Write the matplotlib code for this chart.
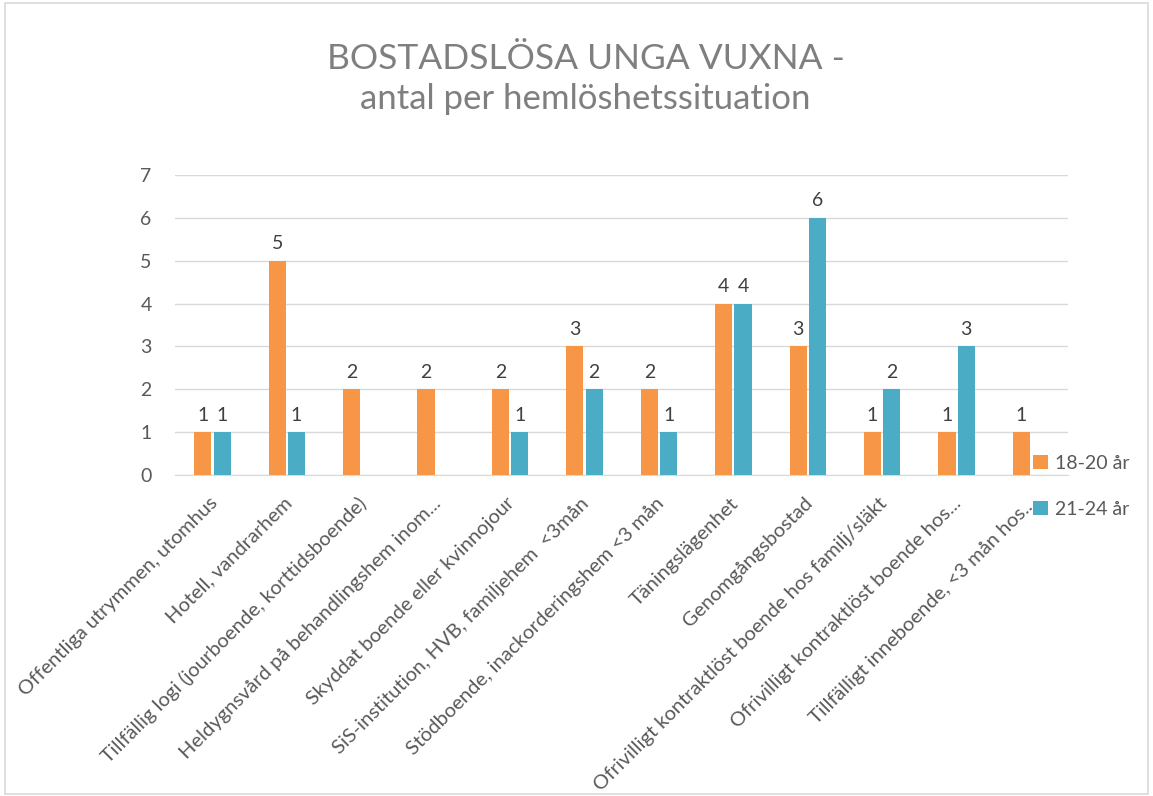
import numpy as np
import matplotlib
matplotlib.use("Agg")
import matplotlib.pyplot as plt
from matplotlib.patches import Rectangle
from matplotlib.transforms import ScaledTranslation

plt.rcParams["font.family"] = ["Lato", "DejaVu Sans"]

CATEGORIES = [
    "Offentliga utrymmen, utomhus",
    "Hotell, vandrarhem",
    "Tillfällig logi (jourboende, korttidsboende)",
    "Heldygnsvård på behandlingshem inom...",
    "Skyddat boende eller kvinnojour",
    "SiS-institution, HVB, familjehem  <3mån",
    "Stödboende, inackorderingshem <3 mån",
    "Täningslägenhet",
    "Genomgångsbostad",
    "Ofrivilligt kontraktlöst boende hos familj/släkt",
    "Ofrivilligt kontraktlöst boende hos...",
    "Tillfälligt inneboende, <3 mån hos...",
]
AGE_18_20 = [1, 5, 2, 2, 2, 3, 2, 4, 3, 1, 1, 1]
AGE_21_24 = [1, 1, None, None, 1, 2, 1, 4, 6, 2, 3, None]
SERIES = ["18-20 år", "21-24 år"]
COLORS = ["#F79646", "#4BACC6"]
TXT = "#595959"

fig = plt.figure(figsize=(11.53, 7.96), dpi=100)
fig.patches.append(Rectangle((0.004, 0.002), 0.992, 0.994, transform=fig.transFigure,
                             fill=False, edgecolor="#D9D9D9", lw=1.2))
ax = fig.add_axes([0.152, 0.4033, 0.7745, 0.3767])

x = np.arange(len(CATEGORIES))
w = 0.23
gap = 0.03
handles = []
for k, (vals, col, name) in enumerate(zip([AGE_18_20, AGE_21_24], COLORS, SERIES)):
    off = (-1 if k == 0 else 1) * (w / 2 + gap / 2)
    xs = [xi + off for xi, v in zip(x, vals) if v is not None]
    ys = [v for v in vals if v is not None]
    bars = ax.bar(xs, ys, width=w, color=col, label=name, zorder=3)
    handles.append(bars)
    for b, v in zip(bars, ys):
        ax.text(b.get_x() + b.get_width() / 2, v + 0.2, str(v), ha="center", va="bottom",
                fontsize=14, color="#404040")

ax.set_xlim(-0.5, len(CATEGORIES) - 0.5)
ax.set_ylim(0, 7)
ax.set_yticks(range(8))
ax.grid(axis="y", color="#D9D9D9", lw=1, zorder=0)
for s in ["top", "right", "left"]:
    ax.spines[s].set_visible(False)
ax.spines["bottom"].set_color("#D9D9D9")
ax.tick_params(axis="both", length=0, labelsize=14, labelcolor=TXT)
ax.tick_params(axis="y", pad=17)
ax.set_xticks(x)
ax.set_xticklabels(CATEGORIES, rotation=45, ha="right", rotation_mode="anchor", fontsize=14.5)
ax.tick_params(axis="x", pad=14)
shift = ScaledTranslation(-4 / 100, 0, fig.dpi_scale_trans)
for lbl in ax.get_xticklabels():
    lbl.set_transform(lbl.get_transform() + shift)

fig.text(0.508, 0.926, "BOSTADSLÖSA UNGA VUXNA -", ha="center", va="center",
         fontsize=25.5, color="#7F7F7F")
fig.text(0.508, 0.876, "antal per hemlöshetssituation", ha="center", va="center",
         fontsize=25, color="#7F7F7F")

fig.legend(handles=handles, loc="center left", bbox_to_anchor=(0.896, 0.389), frameon=False,
           fontsize=14, labelcolor=TXT, handlelength=0.75, handleheight=0.75, labelspacing=1.5,
           handletextpad=0.4, borderpad=0, borderaxespad=0)

fig.savefig("out.png", dpi=100, facecolor="white")
